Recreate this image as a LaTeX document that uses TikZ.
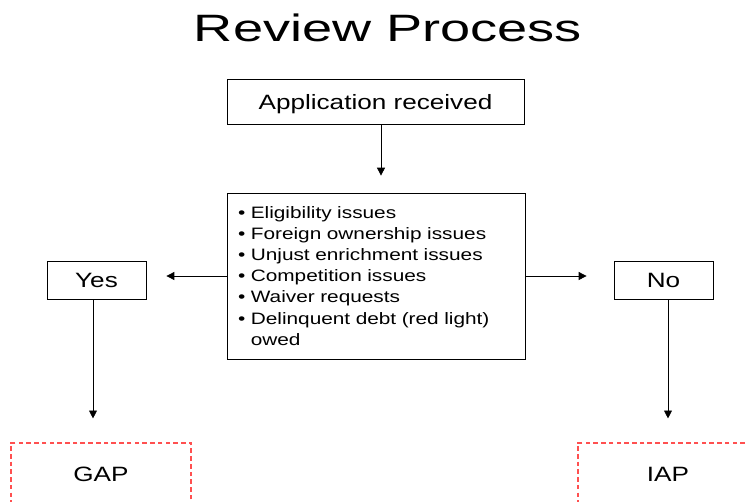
\documentclass[tikz,border=0pt]{standalone}
\usepackage{fontspec}
\setmainfont[FakeStretch=1.26]{Liberation Sans}
\newfontfamily\titlefont[FakeStretch=1.42]{Liberation Sans}
\usetikzlibrary{arrows.meta}
\definecolor{gapred}{RGB}{255,80,80}

\begin{document}
\begin{tikzpicture}[x=0.02cm, y=-0.02cm,
    box/.style={draw, line width=0.45pt, inner sep=0pt, font=\fontsize{11.8}{14}\selectfont},
    dashbox/.style={draw=gapred, line width=0.65pt, dash pattern=on 2.6pt off 1.8pt, minimum width=3.6cm, minimum height=1.24cm, font=\fontsize{11.8}{14}\selectfont},
    arr/.style={-{Triangle[width=4.5pt,length=4.5pt]}, line width=0.45pt}]
    \useasboundingbox (0,0) rectangle (748,501);
    \clip (0,0) rectangle (748,501);

    \node[anchor=base, font=\titlefont\fontsize{21.7}{26}\selectfont] (title) at (388,41.5) {Review Process};
    \node[box, text depth=0pt, minimum width=5.94cm, minimum height=0.9cm] (app) at (375.5,101.5) {Application received};
    \node[box, text width=5.52cm, minimum height=3.32cm, inner xsep=0.22cm, align=left, font=\fontsize{9.4}{12}\selectfont] (issues) at (376,276) {%
      \textbullet\ Eligibility issues\\
      \textbullet\ Foreign ownership issues\\
      \textbullet\ Unjust enrichment issues\\
      \textbullet\ Competition issues\\
      \textbullet\ Waiver requests\\
      \textbullet\ Delinquent debt (red light)\\
      \phantom{\textbullet\ }owed};
    \node[box, minimum width=1.98cm, minimum height=0.76cm] (yes) at (96.5,280) {Yes};
    \node[box, minimum width=1.98cm, minimum height=0.76cm] (no) at (663.5,280.5) {No};
    \node[dashbox] (gap) at (101,474) {GAP};
    \node[dashbox] (iap) at (668,474) {IAP};

    \draw[arr, shorten >=0.34cm] ([xshift=0.11cm]app.south) -- ([xshift=0.11cm]app.south |- issues.north);
    \draw[arr, shorten >=0.4cm] (issues.west) -- (issues.west -| yes.east);
    \draw[arr, shorten >=0.54cm] (issues.east) -- (issues.east -| no.west);
    \draw[arr, shorten >=0.48cm] ([xshift=-0.07cm]yes.south) -- ([xshift=-0.07cm]yes.south |- gap.north);
    \draw[arr, shorten >=0.48cm] (no.south -| iap.north) -- (iap.north);
\end{tikzpicture}
\end{document}
